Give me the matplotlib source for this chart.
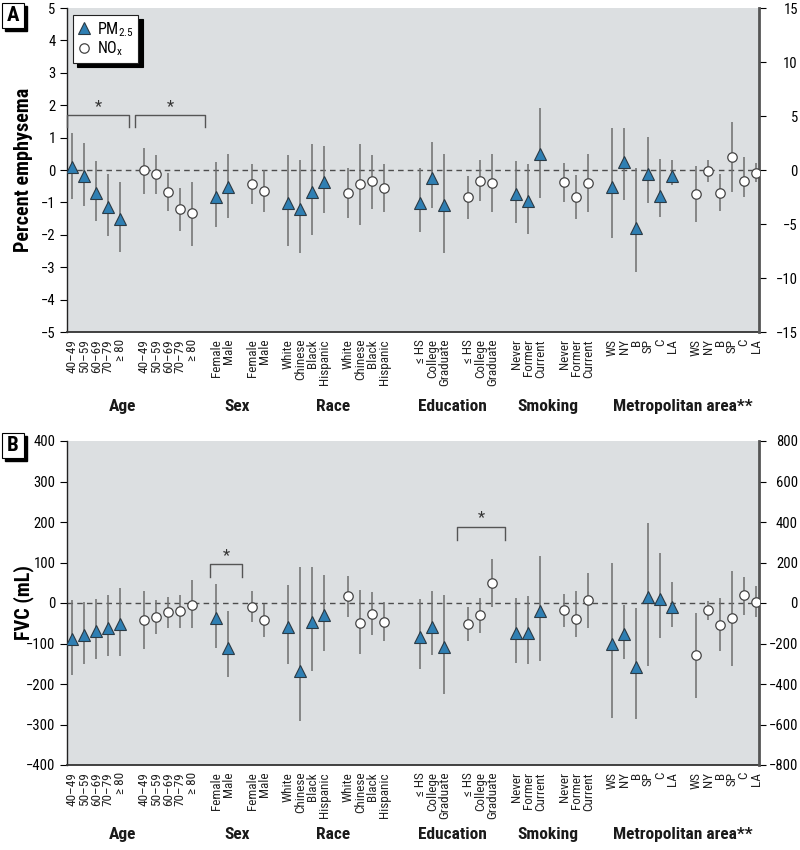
import matplotlib
matplotlib.use('Agg')
import matplotlib.pyplot as plt
from matplotlib.patches import Rectangle
import numpy as np

plt.rcParams['font.family'] = ['Roboto Condensed', 'Liberation Sans', 'DejaVu Sans']
plt.rcParams['mathtext.fontset'] = 'custom'
plt.rcParams['mathtext.rm'] = 'Roboto Condensed'
plt.rcParams['mathtext.it'] = 'Roboto Condensed'

# ---------------- categories ----------------
age_labels = ['40–49', '50–59', '60–69', '70–79', '≥ 80']
sex_labels = ['Female', 'Male']
race_labels = ['White', 'Chinese', 'Black', 'Hispanic']
edu_labels = ['≤ HS', 'College', 'Graduate']
smk_labels = ['Never', 'Former', 'Current']
metro_labels = ['WS', 'NY', 'B', 'SP', 'C', 'LA']
group_names = ['Age', 'Sex', 'Race', 'Education', 'Smoking', 'Metropolitan area**']

# ---------------- Panel A: percent emphysema ----------------
# (estimate, lower, upper); metropolitan area on right axis scale
A_age_pm = [0.10, -0.18, -0.72, -1.13, -1.52]
A_age_pm_lo = [-0.90, -1.10, -1.57, -2.05, -2.52]
A_age_pm_hi = [1.13, 0.82, 0.27, -0.13, -0.37]
A_age_no = [0.00, -0.11, -0.68, -1.21, -1.33]
A_age_no_lo = [-0.74, -0.74, -1.28, -1.87, -2.34]
A_age_no_hi = [0.69, 0.45, -0.09, -0.55, -0.37]

A_sex_pm = [-0.82, -0.53]
A_sex_pm_lo = [-1.75, -1.47]
A_sex_pm_hi = [0.26, 0.49]
A_sex_no = [-0.44, -0.66]
A_sex_no_lo = [-1.06, -1.29]
A_sex_no_hi = [0.18, 0.00]

A_race_pm = [-1.03, -1.20, -0.67, -0.36]
A_race_pm_lo = [-2.36, -2.57, -2.00, -1.33]
A_race_pm_hi = [0.46, 0.31, 0.79, 0.75]
A_race_no = [-0.71, -0.44, -0.35, -0.55]
A_race_no_lo = [-1.47, -1.69, -1.19, -1.31]
A_race_no_hi = [0.07, 0.80, 0.46, 0.18]

A_edu_pm = [-1.01, -0.24, -1.09]
A_edu_pm_lo = [-1.92, -1.18, -2.57]
A_edu_pm_hi = [0.07, 0.86, 0.49]
A_edu_no = [-0.83, -0.33, -0.41]
A_edu_no_lo = [-1.51, -0.95, -1.31]
A_edu_no_hi = [-0.18, 0.31, 0.49]

A_smk_pm = [-0.75, -0.95, 0.48]
A_smk_pm_lo = [-1.64, -1.98, -0.87]
A_smk_pm_hi = [0.27, 0.18, 1.90]
A_smk_no = [-0.37, -0.84, -0.40]
A_smk_no_lo = [-0.99, -1.52, -1.31]
A_smk_no_hi = [0.22, -0.15, 0.48]

A_met_pm = [-1.55, 0.71, -5.35, -0.34, -2.44, -0.56]
A_met_pm_lo = [-6.33, -2.78, -9.42, -3.09, -4.38, -1.39]
A_met_pm_hi = [3.93, 3.93, 0.16, 3.09, 0.99, 0.93]
A_met_no = [-2.22, -0.06, -2.10, 1.23, -0.99, -0.25]
A_met_no_lo = [-4.79, -1.08, -3.80, -2.06, -2.47, -1.14]
A_met_no_hi = [0.40, 0.93, -0.37, 4.47, 1.23, 0.68]

# ---------------- Panel B: FVC (mL) ----------------
B_age_pm = [-90, -78, -70, -61, -52]
B_age_pm_lo = [-178, -151, -138, -131, -131]
B_age_pm_hi = [7, 2, 9, 20, 38]
B_age_no = [-41, -35, -23, -20, -4]
B_age_no_lo = [-113, -76, -62, -61, -62]
B_age_no_hi = [30, 7, 16, 20, 56]

B_sex_pm = [-36, -110]
B_sex_pm_lo = [-110, -183]
B_sex_pm_hi = [48, -20]
B_sex_no = [-9, -43]
B_sex_no_lo = [-48, -84]
B_sex_no_hi = [30, -2]

B_race_pm = [-59, -168, -47, -30]
B_race_pm_lo = [-151, -291, -168, -119]
B_race_pm_hi = [44, 89, 89, 69]
B_race_no = [17, -49, -26, -48]
B_race_no_lo = [-34, -127, -80, -94]
B_race_no_hi = [67, 31, 27, 2]

B_edu_pm = [-85, -60, -108]
B_edu_pm_lo = [-162, -129, -224]
B_edu_pm_hi = [9, 30, 20]
B_edu_no = [-51, -30, 50]
B_edu_no_lo = [-94, -73, -9]
B_edu_no_hi = [-10, 12, 109]

B_smk_pm = [-74, -74, -20]
B_smk_pm_lo = [-147, -151, -143]
B_smk_pm_hi = [13, 17, 116]
B_smk_no = [-17, -40, 7]
B_smk_no_lo = [-59, -84, -62]
B_smk_no_hi = [23, 30, 73]

B_met_pm = [-201, -155, -316, 31, 21, -20]
B_met_pm_lo = [-566, -278, -571, -311, -174, -117]
B_met_pm_hi = [196, -11, -26, 397, 245, 104]
B_met_no = [-258, -35, -110, -76, 38, 6]
B_met_no_lo = [-471, -84, -237, -311, -61, -68]
B_met_no_hi = [-48, 10, 26, 158, 130, 84]

# ---------------- layout helpers ----------------
group_labels = [age_labels, sex_labels, race_labels, edu_labels, smk_labels, metro_labels]
gaps_before = [(0, 1), (1, 1), (1, 1), (2, 1), (1, 1), (1, 1)]  # (gap before PM block, gap before NOx block)

positions = []  # list of (pm_positions, no_positions)
cur = -1
for labels, (g1, g2) in zip(group_labels, gaps_before):
    cur += 1 + g1
    pm_pos = np.arange(cur, cur + len(labels))
    cur = pm_pos[-1] + 1 + g2
    no_pos = np.arange(cur, cur + len(labels))
    cur = no_pos[-1]
    positions.append((pm_pos, no_pos))

xticks = np.concatenate([np.concatenate(p) for p in positions])
xticklabels = sum([labels + labels for labels in group_labels], [])

PM_COLOR = '#2f7fb3'
EDGE = '#2b3a44'
WHISK = '#6e6e6e'
BG = '#dcdfe1'

group_label_x = [4.2, 13.7, 21.7, 31.7, 39.6, 50.9]


def draw_series(axis, x, est, lo, hi, kind):
    est = np.asarray(est, float)
    lo = np.asarray(lo, float)
    hi = np.asarray(hi, float)
    axis.vlines(x, lo, hi, color=WHISK, lw=1.1, zorder=3)
    if kind == 'pm':
        axis.plot(x, est, linestyle='none', marker='^', ms=9, mfc=PM_COLOR,
                  mec=EDGE, mew=0.8, zorder=4)
    else:
        axis.plot(x, est, linestyle='none', marker='o', ms=6.8, mfc='white',
                  mec='#444444', mew=0.9, zorder=4)


def setup_panel(ax, data, left_lim, left_step, right_lim, right_step, group_y):
    ax.set_facecolor(BG)
    ax2 = ax.twinx()
    ax.set_xlim(-0.47, 57.23)
    ax.set_ylim(-left_lim, left_lim)
    ax2.set_ylim(-right_lim, right_lim)
    ax.set_yticks(np.arange(-left_lim, left_lim + 0.1 * left_step, left_step))
    ax2.set_yticks(np.arange(-right_lim, right_lim + 0.1 * right_step, right_step))
    ax.axhline(0, color='#4d4d4d', lw=1.0, dashes=(4, 3), zorder=2)

    for i, (pm_pos, no_pos) in enumerate(positions):
        pm, no = data[i]
        target = ax2 if i == len(positions) - 1 else ax
        draw_series(target, pm_pos, *pm, 'pm')
        draw_series(target, no_pos, *no, 'no')

    ax.set_xticks(xticks)
    ax.set_xticklabels(xticklabels, rotation=90, va='top', ha='center', fontsize=9.5,
                       color='#222222')
    ax.tick_params(axis='x', length=0, pad=5)
    ax.tick_params(axis='y', direction='out', length=5, width=0.8, labelsize=10.5, pad=3)
    ax2.tick_params(axis='y', direction='out', length=5, width=0.8, labelsize=10.5, pad=23)
    for t in ax2.get_yticklabels():
        t.set_horizontalalignment('right')

    for sp in ['top', 'right']:
        ax.spines[sp].set_visible(False)
    for sp in ['top', 'left', 'bottom']:
        ax2.spines[sp].set_visible(False)
    ax.spines['left'].set_color('#222222')
    ax.spines['left'].set_linewidth(1.0)
    ax.spines['bottom'].set_color('#333333')
    ax.spines['bottom'].set_linewidth(1.3)
    ax2.spines['right'].set_color('#555555')
    ax2.spines['right'].set_linewidth(2.0)

    for gx, name in zip(group_label_x, group_names):
        ax.text(gx, group_y, name, transform=ax.get_xaxis_transform(), ha='center',
                va='center', fontsize=12.5, fontweight='bold', color='#1a1a1a')
    return ax2


def bracket(ax, x0, x1, y_end, y_top):
    ax.plot([x0, x0, x1, x1], [y_end, y_top, y_top, y_end], color='#555555', lw=1.0,
            zorder=3, clip_on=False)
    ax.text((x0 + x1) / 2, y_top + (y_top - y_end) * 0.1, '*', ha='center', va='bottom',
            fontsize=12, color='#333333')


fig = plt.figure(figsize=(8, 8.5), dpi=100)
W, H = 800.0, 850.0
axA = fig.add_axes([66.7 / W, (H - 332) / H, (759 - 66.7) / W, 324 / H])
axB = fig.add_axes([66.7 / W, (H - 765) / H, (759 - 66.7) / W, 324 / H])

dataA = [
    ((A_age_pm, A_age_pm_lo, A_age_pm_hi), (A_age_no, A_age_no_lo, A_age_no_hi)),
    ((A_sex_pm, A_sex_pm_lo, A_sex_pm_hi), (A_sex_no, A_sex_no_lo, A_sex_no_hi)),
    ((A_race_pm, A_race_pm_lo, A_race_pm_hi), (A_race_no, A_race_no_lo, A_race_no_hi)),
    ((A_edu_pm, A_edu_pm_lo, A_edu_pm_hi), (A_edu_no, A_edu_no_lo, A_edu_no_hi)),
    ((A_smk_pm, A_smk_pm_lo, A_smk_pm_hi), (A_smk_no, A_smk_no_lo, A_smk_no_hi)),
    ((A_met_pm, A_met_pm_lo, A_met_pm_hi), (A_met_no, A_met_no_lo, A_met_no_hi)),
]
dataB = [
    ((B_age_pm, B_age_pm_lo, B_age_pm_hi), (B_age_no, B_age_no_lo, B_age_no_hi)),
    ((B_sex_pm, B_sex_pm_lo, B_sex_pm_hi), (B_sex_no, B_sex_no_lo, B_sex_no_hi)),
    ((B_race_pm, B_race_pm_lo, B_race_pm_hi), (B_race_no, B_race_no_lo, B_race_no_hi)),
    ((B_edu_pm, B_edu_pm_lo, B_edu_pm_hi), (B_edu_no, B_edu_no_lo, B_edu_no_hi)),
    ((B_smk_pm, B_smk_pm_lo, B_smk_pm_hi), (B_smk_no, B_smk_no_lo, B_smk_no_hi)),
    ((B_met_pm, B_met_pm_lo, B_met_pm_hi), (B_met_no, B_met_no_lo, B_met_no_hi)),
]

axA2 = setup_panel(axA, dataA, 5, 1, 15, 5, -0.231)
axB2 = setup_panel(axB, dataB, 400, 100, 800, 200, -0.213)

# significance brackets
bracket(axA, -0.47, 4.75, 1.33, 1.70)
bracket(axA, 5.25, 11.06, 1.33, 1.70)
bracket(axB, 11.45, 14.17, 64, 96)
bracket(axB, 32.08, 36.08, 155, 188)

# y labels
fig.text(24 / W, 1 - 170 / H, 'Percent emphysema', rotation=90, ha='center', va='center',
         fontsize=14.5, fontweight='bold')
fig.text(24 / W, 1 - 603 / H, 'FVC (mL)', rotation=90, ha='center', va='center',
         fontsize=14.5, fontweight='bold')

# legend
h1, = axA.plot([], [], linestyle='none', marker='^', ms=9, mfc=PM_COLOR, mec=EDGE, mew=0.8)
h2, = axA.plot([], [], linestyle='none', marker='o', ms=6.8, mfc='white', mec='#444444', mew=0.9)
leg = axA.legend([h1, h2], [r'PM$_{2.5}$', r'NO$_{\mathrm{x}}$'], loc='upper left',
                 bbox_to_anchor=(0.009, 0.978), borderaxespad=0, fancybox=False,
                 edgecolor='#222222', framealpha=1, fontsize=11.5, handlelength=0.8,
                 handletextpad=0.4, borderpad=0.3, labelspacing=0.05,
                 shadow={'color': 'black', 'alpha': 1, 'ox': 3, 'oy': -3})
leg.get_frame().set_linewidth(0.8)
leg.set_zorder(10)

# panel letters
for letter, top in [('A', 3), ('B', 433)]:
    x0, w, h = 2, 22, 25
    fig.patches.append(Rectangle(((x0 + 3) / W, 1 - (top + h + 3) / H), w / W, h / H,
                                 transform=fig.transFigure, facecolor='black',
                                 edgecolor='black', zorder=1))
    fig.patches.append(Rectangle((x0 / W, 1 - (top + h) / H), w / W, h / H,
                                 transform=fig.transFigure, facecolor='white',
                                 edgecolor='black', lw=0.8, zorder=2))
    fig.text((x0 + w / 2) / W, 1 - (top + h / 2) / H, letter, ha='center', va='center',
             fontsize=15, fontweight='bold', zorder=3)

fig.savefig('out.png', dpi=100, facecolor='white')
